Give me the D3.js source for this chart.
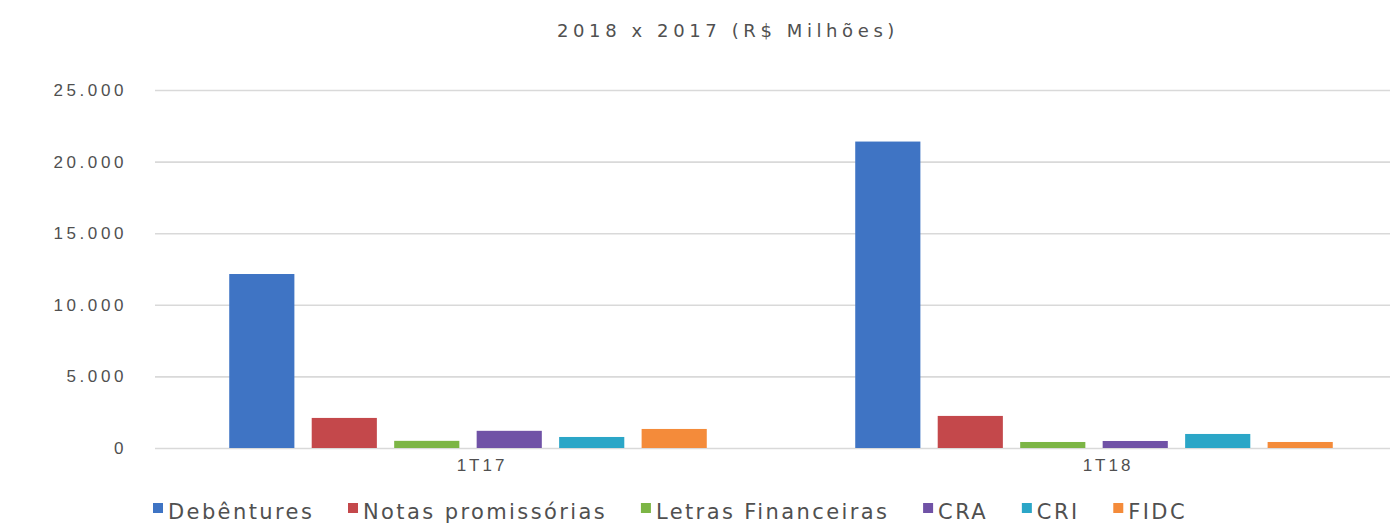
<!DOCTYPE html>
<html>
<head>
<meta charset="utf-8">
<script src="https://cdn.jsdelivr.net/npm/d3@7"></script>
<style>
  html, body { margin: 0; padding: 0; background: #ffffff; }
  svg { display: block; font-family: "DejaVu Sans", "Open Sans", sans-serif; }
</style>
</head>
<body>
<svg id="chart" width="1395" height="531"></svg>
<script>
// Emissões no mercado de capitais, 1º trimestre 2017 vs 2018 (R$ milhões)
const title = "2018 x 2017 (R$ Milhões)";
const quarters = ["1T17", "1T18"];
const instruments = ["Debêntures", "Notas promissórias", "Letras Financeiras", "CRA", "CRI", "FIDC"];
const values1T17 = [12150, 2100, 500, 1200, 770, 1330];
const values1T18 = [21400, 2240, 420, 490, 980, 420];
const yTicks = [0, 5000, 10000, 15000, 20000, 25000];
const palette = ["#3f74c4", "#c4484b", "#7cb545", "#7052a6", "#2ba6c7", "#f48b3a"];

const seriesByQuarter = [values1T17, values1T18];
const rows = quarters.map((q, i) => ({
  quarter: q,
  items: instruments.map((name, j) => ({ name, value: seriesByQuarter[i][j] }))
}));

const svg = d3.select("#chart");
const textColor = "#505050";

const ptBR = d3.formatLocale({ decimal: ",", thousands: ".", grouping: [3], currency: ["R$", ""] });
const fmt = ptBR.format(",d");

// plot geometry
const plotLeft = 155, plotRight = 1390, plotTop = 90, plotBottom = 448;

const y = d3.scaleLinear().domain([0, 25000]).range([plotBottom, plotTop]);

const x0 = d3.scaleBand().domain(quarters).range([155, 1407]).paddingInner(0).paddingOuter(0);
const x1 = d3.scaleBand().domain(instruments).range([0, x0.bandwidth()])
  .paddingInner(0.21).paddingOuter(0.9);
const color = d3.scaleOrdinal().domain(instruments).range(palette);

// title
svg.append("text")
  .attr("x", 728).attr("y", 37)
  .attr("text-anchor", "middle")
  .attr("fill", textColor)
  .style("font-size", "18px")
  .style("letter-spacing", "4.6px")
  .text(title);

// y axis with gridlines
const yAxis = svg.append("g")
  .attr("transform", `translate(${plotLeft},0)`)
  .call(d3.axisLeft(y).tickValues(yTicks).tickFormat(fmt)
    .tickSize(-(plotRight - plotLeft)).tickPadding(28));
yAxis.select(".domain").remove();
yAxis.selectAll(".tick line")
  .attr("stroke", "#d9d9d9").attr("stroke-width", 1.6);
yAxis.selectAll(".tick text")
  .attr("fill", textColor)
  .style("font-size", "17px")
  .style("letter-spacing", "3.6px");

// bars
const groups = svg.append("g").selectAll("g")
  .data(rows).join("g")
  .attr("transform", d => `translate(${x0(d.quarter)},0)`);

groups.selectAll("rect")
  .data(d => d.items).join("rect")
  .attr("x", d => x1(d.name))
  .attr("width", x1.bandwidth())
  .attr("y", d => y(d.value))
  .attr("height", d => y(0) - y(d.value))
  .attr("fill", d => color(d.name));

// x axis (category labels)
const xAxis = svg.append("g")
  .attr("transform", `translate(0,${plotBottom})`)
  .call(d3.axisBottom(x0).tickSize(0).tickPadding(11));
xAxis.select(".domain").remove();
xAxis.selectAll(".tick text")
  .attr("fill", textColor)
  .attr("dx", 14)
  .style("font-size", "17px")
  .style("letter-spacing", "3px");

// legend
const legendY = 512, legendStart = 153, legendEnd = 1187, box = 10, boxGap = 5;
const legend = svg.append("g");
const items = legend.selectAll("g").data(instruments).join("g");
items.append("rect")
  .attr("width", box).attr("height", box)
  .attr("y", legendY - box + 1)
  .attr("fill", d => color(d));
items.append("text")
  .attr("x", box + boxGap)
  .attr("y", legendY + 7)
  .attr("fill", textColor)
  .style("font-size", "21px")
  .style("letter-spacing", "2.4px")
  .text(d => d);

const widths = [];
items.each(function () { widths.push(this.getBBox().width); });
const total = d3.sum(widths);
const gap = (legendEnd - legendStart - total) / (instruments.length - 1);
let cursor = legendStart;
items.attr("transform", (d, i) => {
  const t = `translate(${cursor},0)`;
  cursor += widths[i] + gap;
  return t;
});
</script>
</body>
</html>
